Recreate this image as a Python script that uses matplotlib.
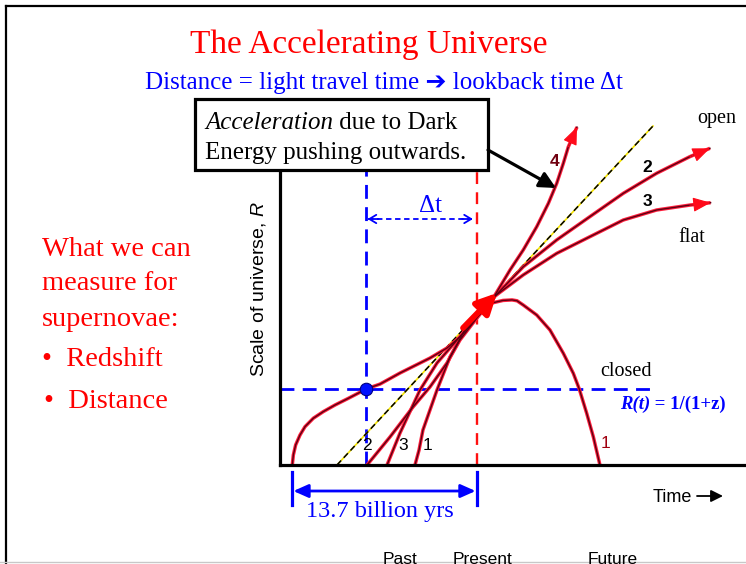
import matplotlib
matplotlib.use('Agg')
import matplotlib.pyplot as plt
from matplotlib.patches import Rectangle

plt.rcParams['font.family'] = ['Liberation Serif', 'DejaVu Sans']
plt.rcParams['mathtext.fontset'] = 'custom'
plt.rcParams['mathtext.rm'] = 'Liberation Sans'
plt.rcParams['mathtext.it'] = 'Liberation Sans:italic'

SANS = ['Liberation Sans', 'DejaVu Sans']

# time in billion years since the big bang of curve 4, scale factor R (1 = today)
t_now = 13.7
t_sn = 5.48          # lookback point of the supernova
R_sn = 0.447         # R(t) = 1/(1+z)
R_top = 1.735        # top of the guide lines

# 4: accelerating (dark energy)
t4 = [0.02, 0.10, 0.27, 0.59, 0.96, 1.58, 2.32, 3.19, 4.17, 5.04, 5.48, 6.52,
      8.0, 10.22, 11.48, 12.44, 13.78, 15.04, 16.15, 17.13, 18.13, 18.99,
      19.61, 20.10, 20.47, 21.11]
r4 = [0, 0.059, 0.118, 0.176, 0.225, 0.275, 0.314, 0.353, 0.392, 0.428, 0.447,
      0.476, 0.541, 0.629, 0.688, 0.753, 0.876, 1.0, 1.147, 1.265, 1.402,
      1.539, 1.657, 1.775, 1.872, 1.988]

# 2: open (empty)
t2 = [5.56, 7.26, 8.96, 10.22, 11.48, 12.44, 13.70, 15.04, 17.13, 19.61,
      22.07, 24.54, 27.01, 29.48, 30.96]
r2 = [0, 0.165, 0.341, 0.459, 0.6, 0.735, 0.865, 0.994, 1.166, 1.324,
      1.461, 1.598, 1.716, 1.814, 1.863]

# 3: flat
t3 = [7.04, 8.0, 9.48, 10.74, 12.22, 13.63, 15.04, 17.13, 19.61, 22.07,
      24.54, 27.01, 29.48, 31.01]
r3 = [0, 0.188, 0.441, 0.6, 0.735, 0.865, 0.994, 1.118, 1.245, 1.343,
      1.441, 1.5, 1.529, 1.543]

# 1: closed (recollapse)
t1 = [9.11, 9.41, 9.70, 10.74, 11.70, 12.67, 13.93, 14.81, 15.63, 16.3, 16.67,
      17.13, 18.13, 19.11, 20.10, 20.84, 21.28, 21.83, 22.32, 22.81]
r1 = [0, 0.088, 0.206, 0.441, 0.635, 0.776, 0.9, 0.953, 0.968, 0.971, 0.966,
      0.941, 0.882, 0.794, 0.657, 0.539, 0.447, 0.304, 0.166, 0]

# coasting reference line
t_lin = [3.33, 26.74]
r_lin = [0, 1.994]

# today's expansion arrow
t_arr = [12.67, 15.19]
r_arr = [0.806, 1.012]

fig = plt.figure(figsize=(7.46, 5.64), dpi=100)
ax = fig.add_axes([280 / 746, 99 / 564, 466 / 746, 365 / 564])
ax.set_xlim(-0.889, 33.63)
ax.set_ylim(0, 2.147)
ax.patch.set_alpha(0)
for s in ['top', 'right']:
    ax.spines[s].set_visible(False)
for s in ['left', 'bottom']:
    ax.spines[s].set_linewidth(2.3)
    ax.spines[s].set_zorder(8)
ax.set_xticks([])
ax.set_yticks([])

# guide lines
ax.plot([t_sn, t_sn], [0, R_top], color='#0000ff', lw=2, dashes=(5, 3), zorder=1)
ax.plot([t_now, t_now], [0, R_top], color='#ff1010', lw=1.7, dashes=(5, 3.5), zorder=1)
ax.plot([-0.889, 26.5], [R_sn, R_sn], color='#0000ff', lw=2, dashes=(5, 3), zorder=1)

# coasting line: black dashes over yellow
ax.plot(t_lin, r_lin, color='#f5e400', lw=1.2, zorder=2)
ax.plot(t_lin, r_lin, color='black', lw=1.1, dashes=(4, 2.5), zorder=2)


def curve(t, r, head=True):
    ax.plot(t, r, color='#ff1f3d', lw=2.5, zorder=3, solid_capstyle='butt')
    ax.plot(t, r, color='#5c0012', lw=1.0, zorder=4)
    if head:
        ax.annotate('', xy=(t[-1], r[-1]), xytext=(t[-2], r[-2]),
                    arrowprops=dict(arrowstyle='-|>,head_length=1.1,head_width=0.45',
                                    color='#ff0a1a', lw=0.8, mutation_scale=10,
                                    shrinkA=0, shrinkB=0), zorder=5)


curve(t1, r1, head=False)
curve(t3, r3)
curve(t2, r2)
curve(t4, r4)

ax.annotate('', xy=(t_arr[1], r_arr[1]), xytext=(t_arr[0], r_arr[0]),
            arrowprops=dict(arrowstyle='-|>,head_length=1.2,head_width=0.6',
                            color='#ff0000', lw=4.2, mutation_scale=10,
                            shrinkA=0, shrinkB=0), zorder=6)

ax.plot([t_sn], [R_sn], 'o', ms=9, mfc='#0010ff', mec='#000080', mew=0.8, zorder=7)

# lookback arrow
ax.plot([5.63, 13.33], [1.447, 1.447], color='#0000ff', lw=1.3, dashes=(3, 2), zorder=2)
for a, b in [(6.4, 5.6), (12.6, 13.4)]:
    ax.annotate('', xy=(b, 1.447), xytext=(a, 1.447),
                arrowprops=dict(arrowstyle='->,head_length=0.5,head_width=0.3',
                                color='#0000ff', lw=1.3, mutation_scale=10,
                                shrinkA=0, shrinkB=0))

# age of the universe span
for tb in [0, t_now]:
    ax.plot([tb, tb], [-0.041, -0.235], color='#0000ff', lw=2.3, clip_on=False)
ax.annotate('', xy=(t_now - 0.1, -0.153), xytext=(0.1, -0.153),
            arrowprops=dict(arrowstyle='<|-|>,head_length=0.9,head_width=0.4',
                            color='#0000ff', lw=2.0, mutation_scale=10,
                            shrinkA=0, shrinkB=0), annotation_clip=False)

# ---- slide overlay, pixel coordinates ----
ov = fig.add_axes([0, 0, 1, 1], zorder=5)
ov.set_xlim(0, 746)
ov.set_ylim(564, 0)
ov.axis('off')

ov.plot([6, 6], [564, 6], color='black', lw=1.6)
ov.plot([6, 746], [6, 6], color='black', lw=1.6)
ov.plot([0, 746], [562, 562], color='#c8c8c8', lw=1)

ov.text(369, 45, 'The Accelerating Universe', color='#ff0000', fontsize=24,
        ha='center', va='center')
ov.text(384, 83, 'Distance = light travel time \u2794 lookback time \u0394t',
        color='#0000ff', fontsize=18, ha='center', va='center')

left_lines = [(42, 249, 'What we can'), (42, 284, 'measure for'),
              (42, 320, 'supernovae:'), (42, 360, '\u2022  Redshift'),
              (44, 402, '\u2022  Distance')]
for x, y, s in left_lines:
    ov.text(x, y, s, color='#ff0000', fontsize=20.5, ha='left', va='center')

ov.text(259, 289, r'Scale of universe, $R$', fontsize=14, family=SANS,
        rotation=90, ha='center', va='center')

# callout box
ov.add_patch(Rectangle((195, 99), 293, 71, fc='white', ec='black', lw=2.3, zorder=6))
t_it = ov.text(205, 134, 'Acceleration', fontsize=18, style='italic',
               ha='left', va='bottom', zorder=7)
ov.annotate(' due to Dark', xy=(1, 0), xycoords=t_it, fontsize=18,
            ha='left', va='bottom', zorder=7)
ov.text(205, 164, 'Energy pushing outwards.', fontsize=18, ha='left',
        va='bottom', zorder=7)
ov.annotate('', xy=(556, 188), xytext=(488, 150),
            arrowprops=dict(arrowstyle='-|>,head_length=0.7,head_width=0.35',
                            color='black', lw=2.3, mutation_scale=14,
                            shrinkA=0, shrinkB=0), zorder=7)

ov.text(430, 206, '\u0394t', color='#0000ff', fontsize=18, ha='center', va='center')
ov.text(380, 512, '13.7 billion yrs', color='#0000ff', fontsize=17.5,
        ha='center', va='center')

ov.text(717, 118, 'open', fontsize=14.5, ha='center', va='center')
ov.text(692, 237, 'flat', fontsize=14.5, ha='center', va='center')
ov.text(626, 372, 'closed', fontsize=14.5, ha='center', va='center')

t_r = ov.text(620, 413, 'R(t)', color='#0000ff', fontsize=13.5, weight='bold',
              style='italic', ha='left', va='bottom')
ov.annotate(' = 1/(1+z)', xy=(1, 0), xycoords=t_r, color='#0000ff',
            fontsize=13.5, weight='bold', ha='left', va='bottom')

for x, y, s, c in [(367, 446, '2', 'black'), (403, 446, '3', 'black'),
                   (427, 446, '1', 'black'), (606, 443, '1', '#a00010'),
                   (555, 162, '4', '#700010'), (647, 168, '2', 'black'),
                   (647, 202, '3', 'black')]:
    ov.text(x, y, s, color=c, fontsize=12.5, family=SANS, ha='center',
            va='center', weight='bold' if y < 300 else 'normal')

ov.text(672, 497, 'Time', fontsize=13, family=SANS, ha='center', va='center')
ov.annotate('', xy=(723, 496), xytext=(697, 496),
            arrowprops=dict(arrowstyle='-|>,head_length=0.6,head_width=0.3',
                            color='black', lw=1.3, mutation_scale=12,
                            shrinkA=0, shrinkB=0))

# bottom labels are cut by the slide edge, as in the original
for x, s in [(400, 'Past'), (483, 'Present'), (613, 'Future')]:
    ov.text(x, 552, s, fontsize=12.5, family=SANS, ha='center', va='top')

fig.savefig('out.png', dpi=100)
